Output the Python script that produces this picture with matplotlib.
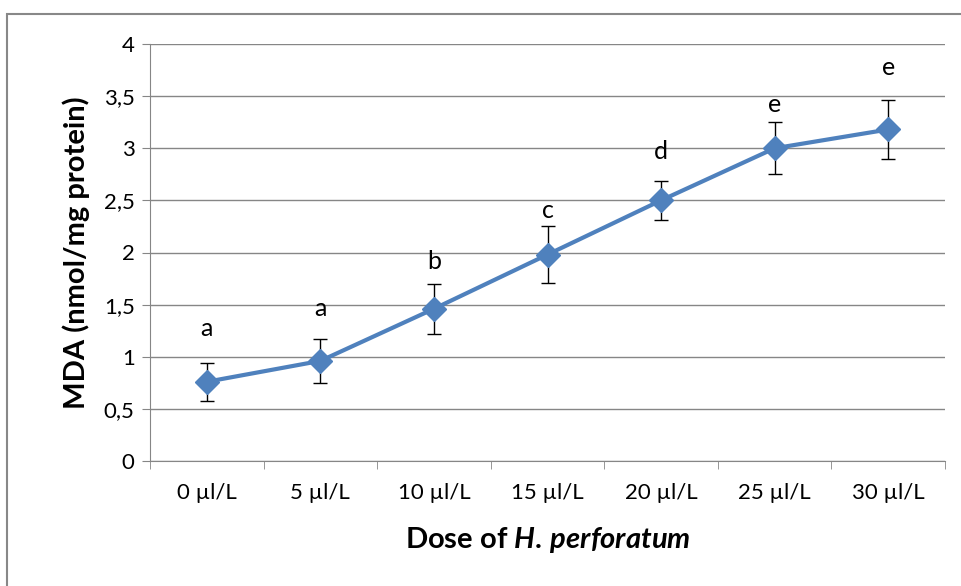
import numpy as np
import matplotlib
matplotlib.use("Agg")
import matplotlib.pyplot as plt
from matplotlib.patches import Rectangle

plt.rcParams['font.family'] = ['Lato', 'DejaVu Sans']
plt.rcParams['mathtext.fontset'] = 'custom'
plt.rcParams['mathtext.it'] = 'Lato:bold:italic'
plt.rcParams['mathtext.rm'] = 'Lato:bold'

# data
doses = ["0 \u00b5l/L", "5 \u00b5l/L", "10 \u00b5l/L", "15 \u00b5l/L",
         "20 \u00b5l/L", "25 \u00b5l/L", "30 \u00b5l/L"]
mda = [0.76, 0.96, 1.46, 1.98, 2.50, 3.00, 3.18]
err = [0.18, 0.21, 0.24, 0.27, 0.19, 0.25, 0.28]
letters = ["a", "a", "b", "c", "d", "e", "e"]
letter_y = [1.27, 1.46, 1.91, 2.40, 2.97, 3.42, 3.77]

blue = "#4F81BD"
grey = "#868686"

fig = plt.figure(figsize=(9.62, 5.86), dpi=100)
# outer chart frame
fig.patches.append(Rectangle((7 / 962, -0.1), 1.2, 1 - 14 / 586 + 0.1,
                             transform=fig.transFigure, fill=False,
                             edgecolor="#888888", linewidth=1.5))

ax = fig.add_axes([150 / 962, 1 - 461 / 586, 795 / 962, 417 / 586])
x = np.arange(len(doses))

ax.errorbar(x, mda, yerr=err, fmt="none", ecolor="black", elinewidth=1,
            capsize=5, capthick=1, zorder=2)
ax.plot(x, mda, color=blue, linewidth=3, marker="D", markersize=12,
        markerfacecolor=blue, markeredgecolor=blue, zorder=3)

for xi, lab, ly in zip(x, letters, letter_y):
    ax.text(xi, ly, lab, ha="center", va="center", fontsize=18)

ax.set_xlim(-0.5, len(doses) - 0.5)
ax.set_ylim(0, 4)
ax.set_yticks(np.arange(0, 4.01, 0.5))
ax.set_yticklabels(["0", "0,5", "1", "1,5", "2", "2,5", "3", "3,5", "4"])
ax.set_xticks(x)
ax.set_xticklabels(doses)
ax.set_xticks(np.arange(-0.5, len(doses), 1), minor=True)
ax.tick_params(axis="x", which="major", length=0, labelsize=16, pad=16)
ax.tick_params(axis="x", which="minor", length=6, color=grey, direction="out")
ax.tick_params(axis="y", length=6, color=grey, labelsize=16, pad=5)

ax.grid(axis="y", color=grey, linewidth=1)
ax.set_axisbelow(True)
for s in ["top", "right"]:
    ax.spines[s].set_visible(False)
ax.spines["left"].set_color(grey)
ax.spines["bottom"].set_color(grey)

ax.set_ylabel("MDA (nmol/mg protein)", fontsize=21, fontweight="bold", labelpad=10)
ax.set_xlabel(r"Dose of $\it{H.\,perforatum}$", fontsize=21, fontweight="bold",
              labelpad=16)

fig.savefig("out.png", dpi=100)
